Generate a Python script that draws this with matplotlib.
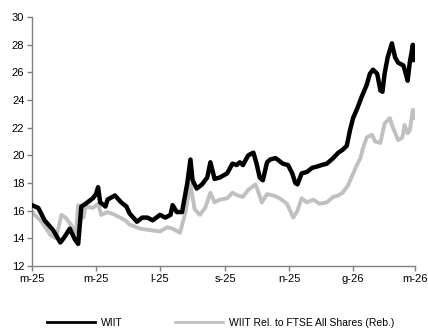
import pandas as pd
import numpy as np
import matplotlib
matplotlib.use('Agg')
import matplotlib.pyplot as plt

plt.rcParams['font.family'] = ['Liberation Sans', 'DejaVu Sans']

# serie WIIT (prezzo)
date_wiit = ['2025-03-01', '2025-03-07', '2025-03-13', '2025-03-21', '2025-03-28', '2025-04-01',
             '2025-04-06', '2025-04-11', '2025-04-14', '2025-04-17', '2025-04-21', '2025-04-28',
             '2025-05-01', '2025-05-03', '2025-05-05', '2025-05-10', '2025-05-12', '2025-05-19',
             '2025-05-25', '2025-05-30', '2025-06-02', '2025-06-09', '2025-06-14', '2025-06-19',
             '2025-06-24', '2025-07-01', '2025-07-06', '2025-07-11', '2025-07-13', '2025-07-17',
             '2025-07-22', '2025-07-27', '2025-07-30', '2025-08-01', '2025-08-05', '2025-08-10',
             '2025-08-15', '2025-08-18', '2025-08-22', '2025-08-27', '2025-09-03', '2025-09-08',
             '2025-09-12', '2025-09-15', '2025-09-18', '2025-09-23', '2025-09-28', '2025-10-01',
             '2025-10-04', '2025-10-07', '2025-10-11', '2025-10-14', '2025-10-19', '2025-10-21',
             '2025-10-26', '2025-10-31', '2025-11-04', '2025-11-07', '2025-11-09', '2025-11-13',
             '2025-11-18', '2025-11-23', '2025-11-28', '2025-12-02', '2025-12-07', '2025-12-13',
             '2025-12-18', '2025-12-22', '2025-12-26', '2025-12-29', '2026-01-01', '2026-01-05',
             '2026-01-09', '2026-01-14', '2026-01-17', '2026-01-20', '2026-01-24', '2026-01-27',
             '2026-01-29', '2026-01-31', '2026-02-03', '2026-02-07', '2026-02-10', '2026-02-13',
             '2026-02-18', '2026-02-21', '2026-02-22', '2026-02-24', '2026-02-27', '2026-02-28']
wiit = [16.4, 16.2, 15.3, 14.6, 13.7, 14.1,
        14.7, 13.9, 13.6, 16.3, 16.5, 16.9,
        17.2, 17.7, 16.6, 16.3, 16.8, 17.1,
        16.6, 16.3, 15.8, 15.2, 15.5, 15.5,
        15.3, 15.7, 15.5, 15.7, 16.4, 15.9,
        15.9, 18.0, 19.7, 18.2, 17.6, 17.9,
        18.4, 19.5, 18.3, 18.4, 18.7, 19.4,
        19.3, 19.5, 19.3, 20.0, 20.2, 19.4,
        18.4, 18.2, 19.5, 19.7, 19.8, 19.7,
        19.4, 19.3, 18.7, 18.0, 17.9, 18.7,
        18.8, 19.1, 19.2, 19.3, 19.4, 19.8,
        20.2, 20.4, 20.7, 21.8, 22.7, 23.4,
        24.2, 25.1, 25.9, 26.2, 25.9, 24.7,
        24.6, 25.9, 27.1, 28.1, 27.1, 26.7,
        26.5, 25.7, 25.4, 26.7, 28.0, 26.9]

# serie relativa al FTSE All Shares (ribasata)
date_rel = ['2025-03-01', '2025-03-10', '2025-03-19', '2025-03-24', '2025-03-29', '2025-04-02',
            '2025-04-07', '2025-04-12', '2025-04-14', '2025-04-17', '2025-04-19', '2025-04-21',
            '2025-04-28', '2025-05-03', '2025-05-06', '2025-05-12', '2025-05-19', '2025-05-29',
            '2025-06-02', '2025-06-12', '2025-06-21', '2025-07-01', '2025-07-08', '2025-07-13',
            '2025-07-20', '2025-07-25', '2025-07-30', '2025-08-03', '2025-08-08', '2025-08-13',
            '2025-08-18', '2025-08-22', '2025-08-27', '2025-09-03', '2025-09-08', '2025-09-13',
            '2025-09-18', '2025-09-23', '2025-09-30', '2025-10-02', '2025-10-06', '2025-10-11',
            '2025-10-17', '2025-10-23', '2025-10-30', '2025-11-02', '2025-11-05', '2025-11-09',
            '2025-11-13', '2025-11-18', '2025-11-24', '2025-11-30', '2025-12-07', '2025-12-13',
            '2025-12-18', '2025-12-22', '2025-12-27', '2025-12-31', '2026-01-04', '2026-01-08',
            '2026-01-10', '2026-01-14', '2026-01-19', '2026-01-22', '2026-01-27', '2026-01-31',
            '2026-02-05', '2026-02-08', '2026-02-13', '2026-02-17', '2026-02-19', '2026-02-22',
            '2026-02-24', '2026-02-27', '2026-02-28']
wiit_rel = [15.9, 15.2, 14.2, 14.0, 15.7, 15.5,
            15.0, 14.4, 16.4, 15.8, 15.5, 16.3,
            16.2, 16.5, 15.7, 15.9, 15.7, 15.3,
            15.0, 14.7, 14.6, 14.5, 14.8, 14.7,
            14.4, 15.8, 17.9, 16.1, 15.7, 16.2,
            17.3, 16.6, 16.8, 16.9, 17.3, 17.1,
            17.0, 17.5, 17.9, 17.5, 16.6, 17.2,
            17.1, 16.9, 16.5, 16.0, 15.5, 16.0,
            16.9, 16.6, 16.8, 16.5, 16.6, 17.0,
            17.1, 17.3, 17.8, 18.5, 19.2, 19.8,
            20.4, 21.3, 21.5, 21.0, 20.9, 22.3,
            22.7, 22.0, 21.1, 21.3, 22.2, 21.6,
            21.8, 23.3, 22.7]

tick_dates = ['2025-03-01', '2025-05-01', '2025-07-01', '2025-09-01', '2025-11-01', '2026-01-01', '2026-03-01']
tick_labels = ['m-25', 'm-25', 'l-25', 's-25', 'n-25', 'g-26', 'm-26']

#creazione della figura
fig = plt.figure(figsize=(4.28, 3.29), dpi=100)
ax = fig.add_axes([0.0748, 0.1915, 0.8948, 0.7565])

ax.plot(pd.to_datetime(date_wiit), wiit, color='black', linewidth=3.2,
        solid_joinstyle='round', label='WIIT', zorder=3)
ax.plot(pd.to_datetime(date_rel), wiit_rel, color='#c0c0c0', linewidth=2.8,
        solid_joinstyle='round', label='WIIT Rel. to FTSE All Shares (Reb.)', zorder=2)

ax.set_xlim(pd.Timestamp('2025-03-01'), pd.Timestamp('2026-03-01'))
ax.set_ylim(12, 30)
ax.set_yticks(np.arange(12, 31, 2))
ax.set_xticks(pd.to_datetime(tick_dates))
ax.set_xticklabels(tick_labels)

for s in ['top', 'right']:
    ax.spines[s].set_visible(False)
for s in ['left', 'bottom']:
    ax.spines[s].set_color('#808080')
    ax.spines[s].set_linewidth(1.0)
ax.tick_params(axis='both', direction='out', length=3.5, width=1.0, color='#808080',
               labelsize=8, labelcolor='black', pad=2)

leg = fig.legend(loc='lower center', bbox_to_anchor=(0.515, -0.025), ncol=2, frameon=False,
                 fontsize=7.5, handlelength=4.6, columnspacing=5.0, handletextpad=0.6)
for l in leg.get_lines():
    l.set_linewidth(2.0)

plt.savefig('out.png', dpi=100)
